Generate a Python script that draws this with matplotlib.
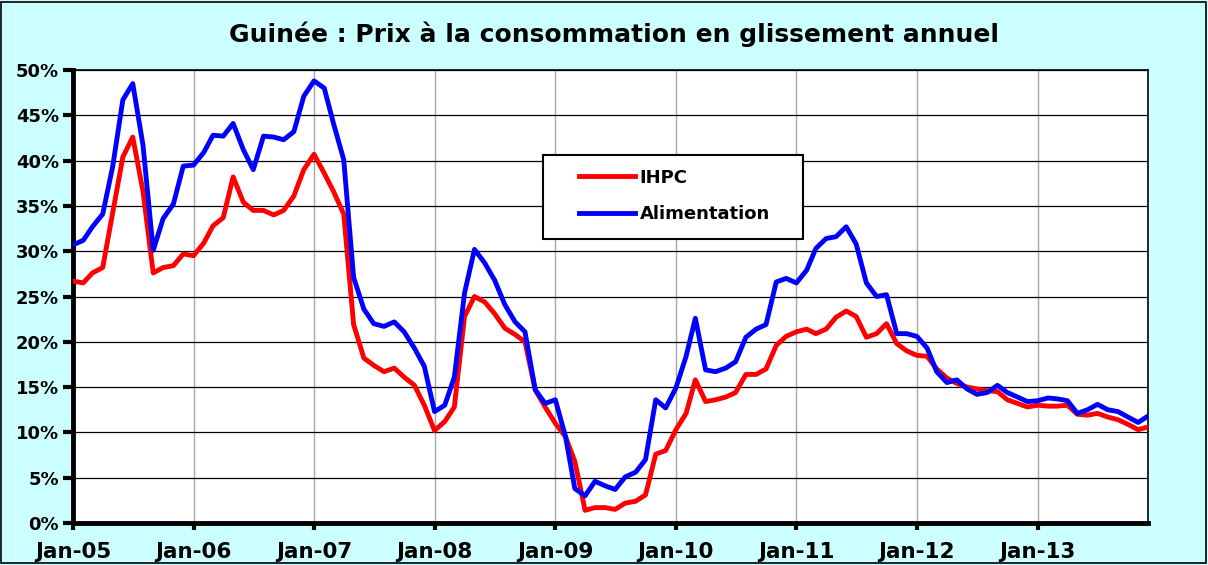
import numpy as np
import pandas as pd
import matplotlib
matplotlib.use('Agg')
import matplotlib.pyplot as plt
import matplotlib.dates as mdates
from matplotlib.patches import Rectangle

# data (annual change, %), monthly Jan-05 .. Dec-13
months = pd.date_range('2005-01-01', periods=108, freq='MS')

ihpc = [
    26.7, 26.5, 27.6, 28.2, 34.2, 40.4, 42.6, 36.6, 27.6, 28.2, 28.4, 29.7,
    29.5, 30.9, 32.8, 33.7, 38.2, 35.4, 34.5, 34.5, 34.0, 34.5, 36.1, 39.0,
    40.7, 38.6, 36.6, 34.1, 21.9, 18.2, 17.4, 16.7, 17.1, 16.1, 15.2, 13.0,
    10.2, 11.2, 12.8, 22.8, 25.0, 24.4, 23.1, 21.5, 20.8, 20.0, 14.7, 12.8,
    11.0, 9.5, 6.8, 1.4, 1.7, 1.7, 1.5, 2.2, 2.4, 3.1, 7.6, 8.0,
    10.3, 12.1, 15.8, 13.4, 13.6, 13.9, 14.4, 16.4, 16.4, 17.0, 19.6, 20.6,
    21.1, 21.4, 20.9, 21.4, 22.7, 23.4, 22.8, 20.5, 20.9, 22.0, 19.8, 19.0,
    18.5, 18.4, 17.0, 16.0, 15.4, 15.0, 14.8, 14.6, 14.5, 13.6, 13.2, 12.8,
    13.0, 12.9, 12.9, 13.0, 12.0, 11.9, 12.1, 11.7, 11.4, 10.9, 10.3, 10.6,
]
alimentation = [
    30.7, 31.2, 32.7, 34.1, 39.3, 46.7, 48.5, 41.7, 30.1, 33.6, 35.2, 39.4,
    39.5, 40.9, 42.8, 42.7, 44.1, 41.2, 39.0, 42.7, 42.6, 42.3, 43.2, 47.1,
    48.8, 48.0, 44.1, 40.1, 27.1, 23.6, 22.0, 21.7, 22.2, 21.1, 19.3, 17.3,
    12.3, 13.0, 16.1, 25.4, 30.2, 28.7, 26.8, 24.1, 22.2, 21.1, 14.7, 13.2,
    13.6, 9.5, 3.8, 3.0, 4.6, 4.1, 3.7, 5.1, 5.6, 7.0, 13.6, 12.7,
    14.9, 18.4, 22.6, 16.9, 16.7, 17.1, 17.8, 20.5, 21.4, 21.9, 26.6, 27.0,
    26.5, 27.9, 30.3, 31.4, 31.6, 32.7, 30.8, 26.5, 25.0, 25.2, 20.9, 20.9,
    20.6, 19.3, 16.7, 15.5, 15.8, 14.8, 14.2, 14.4, 15.2, 14.4, 13.9, 13.4,
    13.5, 13.8, 13.7, 13.5, 12.1, 12.5, 13.1, 12.5, 12.3, 11.7, 11.1, 11.8,
]
y_ticks = [0, 5, 10, 15, 20, 25, 30, 35, 40, 45, 50]

BG = '#CCFFFF'
plt.rcParams['font.family'] = ['DejaVu Sans']
plt.rcParams['font.weight'] = 'bold'

fig = plt.figure(figsize=(12.08, 5.65), dpi=100, facecolor=BG)
ax = fig.add_axes([73 / 1208, 1 - 523 / 565, 1075 / 1208, 453 / 565])
ax.set_facecolor('white')

ax.plot(months, ihpc, color='#FF0000', lw=3.5, label='IHPC', zorder=3)
ax.plot(months, alimentation, color='#0000FF', lw=3.5, label='Alimentation', zorder=4)

ax.set_xlim(months[0], months[-1])
ax.set_ylim(0, 50)
ax.set_yticks(y_ticks)
ax.set_yticklabels([f'{v}%' for v in y_ticks])
ax.xaxis.set_major_locator(mdates.YearLocator(month=1, day=1))
ax.xaxis.set_major_formatter(mdates.DateFormatter('%b-%y'))

ax.grid(axis='y', color='black', lw=0.9, zorder=1)
ax.grid(axis='x', color='#A8A8A8', lw=1.0, zorder=1)
ax.set_axisbelow(True)

for s in ['left', 'bottom']:
    ax.spines[s].set_linewidth(3.5)
for s in ['top', 'right']:
    ax.spines[s].set_linewidth(1.2)

ax.tick_params(axis='y', direction='out', length=7, width=3, pad=3, labelsize=13)
ax.tick_params(axis='x', direction='out', length=5, width=3, pad=9, labelsize=15.5)
for lab in ax.get_xticklabels() + ax.get_yticklabels():
    lab.set_fontweight('bold')

# legend frame drawn by hand, text/handles from the legend
ax.add_patch(Rectangle((543 / 1208, 1 - 239 / 565), 260 / 1208, 84 / 565,
                       transform=fig.transFigure, facecolor='white',
                       edgecolor='black', lw=1.5, zorder=5, clip_on=False))
leg = ax.legend(loc='center left', bbox_to_anchor=(579 / 1208, 1 - 196 / 565),
                bbox_transform=fig.transFigure, frameon=False, fontsize=13,
                handlelength=3.1, handletextpad=0.25, labelspacing=1.05,
                borderpad=0, borderaxespad=0)
leg.set_zorder(6)
for t in leg.get_texts():
    t.set_fontweight('bold')

fig.text(614 / 1208, 1 - 34.5 / 565, 'Guinée : Prix à la consommation en glissement annuel',
         ha='center', va='center', fontsize=18, fontweight='bold')

fig.patches.append(Rectangle((1 / 1208, 2 / 565), 1205 / 1208, 561 / 565,
                             transform=fig.transFigure, fill=False,
                             edgecolor='black', lw=1.2))

fig.savefig('out.png', dpi=100, facecolor=BG)
